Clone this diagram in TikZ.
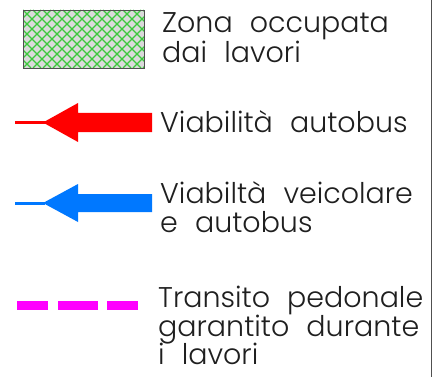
\documentclass[tikz,border=0pt]{standalone}
\usepackage{fontspec}
\IfFontExistsTF{Poppins Light}{\setmainfont{Poppins Light}}{\setmainfont{Poppins}}
\definecolor{hatchgreen}{RGB}{60,200,60}
\definecolor{hatchbg}{RGB}{218,218,218}
\definecolor{roadred}{RGB}{255,0,0}
\definecolor{roadblue}{RGB}{0,120,255}
\definecolor{pedmag}{RGB}{255,0,255}
\definecolor{edgegray}{RGB}{80,80,80}
\newcommand{\wgap}{\hspace{0.6em}}
\tikzset{
  legtext/.style={anchor=base west, inner sep=0pt, font=\fontsize{28.5}{30}\selectfont, text=black!88},
}
\begin{document}
\begin{tikzpicture}[x=1pt,y=-1pt]
\useasboundingbox (0,0) rectangle (436,377);
\fill[white] (0,0) rectangle (436,377);
% hatched zone
\fill[hatchbg] (23,10) rectangle (144,68);
\begin{scope}
\clip (23,10) rectangle (144,68);
\foreach \k in {-60,-50,...,150}{
  \draw[hatchgreen, line width=1.1pt] (23+\k,10) -- (23+\k+58,68);
  \draw[hatchgreen, line width=1.1pt] (23+\k+58,10) -- (23+\k,68);
}
\end{scope}
\draw[edgegray, line width=0.8pt] (23,10) rectangle (144,68);
% red arrow
\draw[roadred, line width=3pt] (15,122.5) -- (45,122.5);
\fill[roadred] (43,122.5) -- (78,103) -- (78,113) -- (152,113) -- (152,132) -- (78,132) -- (78,142) -- cycle;
% blue arrow
\draw[roadblue, line width=3pt] (15,203) -- (45,203);
\fill[roadblue] (43,203) -- (78,184) -- (78,194) -- (152,194) -- (152,212) -- (78,212) -- (78,222) -- cycle;
% magenta dashes
\fill[pedmag] (17,301) rectangle (48,309.5);
\fill[pedmag] (58,301) rectangle (98,309.5);
\fill[pedmag] (107,301) rectangle (138,309.5);
% right border
\draw[edgegray, line width=1pt] (431,0) -- (431,377);
% texts
\node[legtext] (z1) at (162,33) {Zona\wgap occupata};
\node[legtext] (z2) at (162,63) {dai\wgap lavori};
\node[legtext] (r1) at (160,132) {Viabilità\wgap autobus};
\node[legtext] (b1) at (160,203) {Viabiltà\wgap veicolare};
\node[legtext] (b2) at (160,232) {e\wgap autobus};
\node[legtext] (p1) at (158,307) {Transito\wgap pedonale};
\node[legtext] (p2) at (158,336) {garantito\wgap durante};
\node[legtext] (p3) at (158,364) {i\wgap lavori};
\end{tikzpicture}
\end{document}
